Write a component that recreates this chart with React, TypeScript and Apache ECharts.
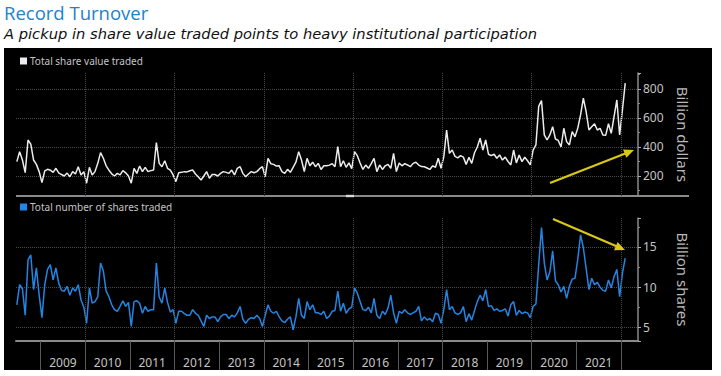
import React, { useEffect, useRef } from "react";
import * as echarts from "echarts";

// ---- Data ----
// Series are sampled every 1/16 of a year, starting mid-2008.
const START_YEAR = 2008 + 7.5 / 16;
const STEP_YEARS = 1 / 16;

// Total share value traded (billion dollars)
const shareValueTraded = [
  299, 368, 310, 223, 448, 420, 310, 280, 230, 154,
  235, 246, 240, 225, 253, 222, 210, 200, 220, 195,
  230, 214, 264, 207, 230, 150, 260, 207, 230, 287,
  361, 322, 270, 240, 215, 200, 218, 207, 237, 222,
  200, 150, 253, 218, 269, 230, 260, 230, 237, 241,
  430, 287, 264, 305, 253, 241, 207, 161, 223, 225,
  230, 228, 236, 241, 214, 195, 172, 200, 230, 184,
  210, 210, 200, 218, 230, 225, 218, 241, 207, 253,
  264, 218, 195, 214, 230, 222, 230, 250, 264, 195,
  322, 285, 280, 268, 270, 230, 218, 246, 225, 260,
  295, 368, 310, 230, 322, 270, 295, 264, 287, 245,
  270, 270, 275, 285, 264, 402, 264, 305, 260, 290,
  250, 368, 340, 290, 245, 275, 253, 285, 322, 230,
  276, 245, 270, 280, 253, 356, 230, 290, 270, 285,
  276, 264, 287, 295, 275, 265, 264, 255, 245, 270,
  260, 322, 253, 333, 517, 356, 379, 335, 325, 340,
  330, 280, 329, 287, 360, 400, 460, 379, 448, 350,
  340, 350, 322, 345, 310, 330, 300, 276, 379, 290,
  345, 299, 329, 305, 276, 379, 414, 680, 720, 483,
  448, 483, 540, 455, 445, 400, 529, 437, 414, 506,
  470, 530, 621, 736, 644, 517, 540, 560, 517, 529,
  483, 480, 560, 494, 609, 724, 483, 655, 840,
];

// Total number of shares traded (billion shares)
const sharesTraded = [
  7.8, 10.3, 9.8, 6.5, 13.4, 14.0, 9.7, 12.4, 9.0, 6.2,
  10.3, 12.2, 12.8, 10.9, 12.4, 10.5, 9.6, 9.5, 10.1, 9.0,
  9.9, 9.5, 10.3, 8.4, 7.5, 5.5, 9.9, 8.0, 8.2, 8.8,
  13.0, 12.0, 9.5, 8.8, 7.8, 7.2, 7.0, 7.6, 8.3, 7.6,
  8.1, 5.1, 8.2, 8.3, 8.0, 6.75, 7.6, 7.0, 7.2, 7.2,
  13.0, 8.8, 8.0, 9.9, 8.1, 6.9, 7.2, 5.5, 7.0, 7.0,
  6.7, 6.5, 6.5, 7.2, 6.75, 6.5, 5.8, 5.1, 6.5, 6.1,
  6.3, 6.3, 5.7, 6.3, 6.6, 6.6, 6.1, 6.5, 6.3, 6.8,
  7.6, 6.0, 5.5, 6.0, 6.2, 6.1, 6.5, 6.1, 5.1, 6.5,
  7.8, 7.0, 6.75, 7.0, 6.3, 5.8, 5.6, 6.0, 6.3, 4.7,
  6.3, 8.6, 6.5, 6.1, 8.2, 7.2, 7.8, 6.8, 6.8, 6.6,
  7.0, 6.1, 6.4, 7.0, 7.1, 9.5, 7.0, 8.0, 6.75, 7.3,
  7.5, 9.9, 9.25, 8.2, 7.2, 7.1, 7.5, 6.8, 8.6, 6.5,
  6.1, 7.0, 6.6, 7.4, 9.0, 6.8, 5.5, 7.0, 6.75, 7.2,
  6.8, 6.6, 6.8, 7.0, 7.6, 5.8, 6.3, 5.9, 6.1, 5.7,
  6.75, 6.6, 5.5, 7.2, 9.7, 7.2, 7.6, 6.8, 6.6, 6.8,
  7.6, 5.7, 6.7, 5.9, 7.1, 8.2, 9.0, 8.3, 9.7, 7.6,
  7.7, 7.1, 7.3, 7.0, 7.1, 7.3, 6.4, 7.8, 8.2, 6.5,
  7.1, 6.7, 6.9, 6.8, 6.2, 7.6, 7.9, 12.8, 17.4, 13.0,
  10.9, 11.9, 14.5, 10.8, 10.3, 9.4, 10.1, 8.6, 10.1, 11.0,
  11.1, 13.5, 16.5, 14.9, 12.3, 9.7, 11.1, 10.3, 10.6, 10.0,
  9.6, 9.5, 10.9, 9.9, 11.3, 12.2, 8.8, 11.75, 13.6,
];

const yearLabels = [2009, 2010, 2011, 2012, 2013, 2014, 2015, 2016, 2017, 2018, 2019, 2020, 2021];
const yearBoundaries = [2009, 2010, 2011, 2012, 2013, 2014, 2015, 2016, 2017, 2018, 2019, 2020, 2021, 2022];
const gridYears = [2010, 2012, 2014, 2016, 2018, 2020, 2022];

const TITLE = "Record Turnover";
const SUBTITLE = "A pickup in share value traded points to heavy institutional participation";
const SERIES_TOP = "Total share value traded";
const SERIES_BOTTOM = "Total number of shares traded";

const X_MIN = 2008.45;
const X_MAX = 2022.38;

const WHITE = "#ececec";
const BLUE = "#2585e2";
const YELLOW = "#d9c916";
const GRID_COLOR = "#4a4a4a";
const TEXT_GREY = "#c4c4c4";

function arrow(x1: number, y1: number, x2: number, y2: number) {
  const dx = x2 - x1;
  const dy = y2 - y1;
  const L = Math.hypot(dx, dy);
  const ux = dx / L;
  const uy = dy / L;
  const hl = 10;
  const hw = 4.5;
  const bx = x2 - ux * hl;
  const by = y2 - uy * hl;
  return [
    {
      type: "line",
      z: 20,
      shape: { x1, y1, x2: bx + ux * 2, y2: by + uy * 2 },
      style: { stroke: YELLOW, lineWidth: 2.2 },
    },
    {
      type: "polygon",
      z: 20,
      shape: {
        points: [
          [x2, y2],
          [bx - uy * hw, by + ux * hw],
          [bx + uy * hw, by - ux * hw],
        ],
      },
      style: { fill: YELLOW },
    },
  ];
}

const toPairs = (vals: number[]) => vals.map((v, i) => [START_YEAR + i * STEP_YEARS, v]);

export default function App() {
  const ref = useRef<HTMLDivElement>(null);

  useEffect(() => {
    document.body.style.margin = "0";
    if (!ref.current) return;
    const chart = echarts.init(ref.current, null, { renderer: "svg" });

    const vLines = {
      silent: true,
      symbol: ["none", "none"],
      label: { show: false },
      lineStyle: { color: GRID_COLOR, type: "dotted", width: 1 },
      data: gridYears.map((y) => ({ xAxis: y })),
    };

    const yCommon = {
      type: "value",
      position: "right",
      nameLocation: "middle",
      nameRotate: -90,
      nameGap: 37,
      nameTextStyle: { color: "#b8b8b8", fontSize: 15, fontFamily: "Noto Sans" },
      axisLine: { show: true, lineStyle: { color: "#8a8a8a", width: 1.5 } },
      axisTick: { show: true, length: 3, lineStyle: { color: "#aaaaaa" } },
      minorTick: { show: true, splitNumber: 2, length: 2, lineStyle: { color: "#888888" } },
      axisLabel: {
        color: TEXT_GREY,
        fontSize: 12,
        margin: 5,
        fontFamily: "Noto Sans",
        showMinLabel: false,
        showMaxLabel: false,
      },
      splitLine: {
        show: true,
        showMinLine: false,
        showMaxLine: false,
        lineStyle: { color: GRID_COLOR, type: "dotted", width: 1 },
      },
    };

    const option: any = {
      animation: false,
      backgroundColor: "#ffffff",
      textStyle: { fontFamily: "Noto Sans" },
      graphic: {
        elements: [
          {
            type: "rect",
            z: -10,
            shape: { x: 4, y: 48, width: 708, height: 322 },
            style: { fill: "#000000" },
          },
          {
            type: "text",
            x: 4,
            y: 12.5,
            style: {
              text: TITLE,
              fill: "#1b83c8",
              fontSize: 18.5,
              fontFamily: "Open Sans",
              verticalAlign: "middle",
            },
          },
          {
            type: "text",
            x: 4,
            y: 33,
            style: {
              text: SUBTITLE,
              fill: "#111111",
              fontSize: 14.7,
              fontStyle: "italic",
              fontWeight: "normal",
              fontFamily: "DejaVu Sans",
              verticalAlign: "middle",
            },
          },
          {
            type: "line",
            z: 5,
            shape: { x1: 16, y1: 196, x2: 689, y2: 196 },
            style: { stroke: "#8a8a8a", lineWidth: 2 },
          },
          {
            type: "rect",
            z: 6,
            shape: { x: 346, y: 194.8, width: 8, height: 2.4 },
            style: { fill: "#d8d8d8" },
          },
          ...arrow(550, 183, 634, 150),
          ...arrow(553, 219, 625, 250),
        ],
      },
      legend: [
        {
          data: [SERIES_TOP],
          left: 20,
          top: 56,
          padding: 0,
          icon: "rect",
          itemWidth: 7,
          itemHeight: 7,
          selectedMode: false,
          textStyle: { color: TEXT_GREY, fontSize: 10, fontFamily: "Noto Sans", padding: [0, 0, 0, -2] },
        },
        {
          data: [SERIES_BOTTOM],
          left: 20,
          top: 202,
          padding: 0,
          icon: "rect",
          itemWidth: 7,
          itemHeight: 7,
          selectedMode: false,
          textStyle: { color: TEXT_GREY, fontSize: 10, fontFamily: "Noto Sans", padding: [0, 0, 0, -2] },
        },
      ],
      grid: [
        { left: 16, right: 83, top: 73, height: 123 },
        { left: 16, right: 83, top: 218, height: 123 },
      ],
      xAxis: [
        {
          gridIndex: 0,
          type: "value",
          min: X_MIN,
          max: X_MAX,
          axisLine: { show: false },
          axisTick: { show: false },
          axisLabel: { show: false },
          splitLine: { show: false },
        },
        {
          gridIndex: 1,
          type: "value",
          min: X_MIN,
          max: X_MAX,
          axisLine: { show: true, lineStyle: { color: "#8a8a8a", width: 2 } },
          axisTick: {
            show: true,
            customValues: yearBoundaries,
            length: 29,
            lineStyle: { color: "#5a5a5a", width: 1 },
          },
          axisLabel: {
            show: true,
            customValues: yearLabels.map((y) => y + 0.5),
            formatter: (v: number) => String(Math.floor(v)),
            color: TEXT_GREY,
            fontSize: 12,
            fontFamily: "Noto Sans",
            margin: 15,
          },
          splitLine: { show: false },
        },
      ],
      yAxis: [
        {
          ...yCommon,
          gridIndex: 0,
          min: 62,
          max: 910,
          splitNumber: 4,
          name: "Billion dollars",
        },
        {
          ...yCommon,
          gridIndex: 1,
          min: 3.3,
          max: 18.6,
          splitNumber: 3,
          name: "Billion shares",
        },
      ],
      series: [
        {
          name: SERIES_TOP,
          type: "line",
          xAxisIndex: 0,
          yAxisIndex: 0,
          showSymbol: false,
          color: WHITE,
          lineStyle: { color: WHITE, width: 1.5 },
          data: toPairs(shareValueTraded),
          markLine: vLines,
        },
        {
          name: SERIES_BOTTOM,
          type: "line",
          xAxisIndex: 1,
          yAxisIndex: 1,
          showSymbol: false,
          color: BLUE,
          lineStyle: { color: BLUE, width: 1.5 },
          data: toPairs(sharesTraded),
          markLine: vLines,
        },
      ],
    };

    chart.setOption(option);
    return () => chart.dispose();
  }, []);

  return <div ref={ref} style={{ width: 721, height: 376 }} />;
}
